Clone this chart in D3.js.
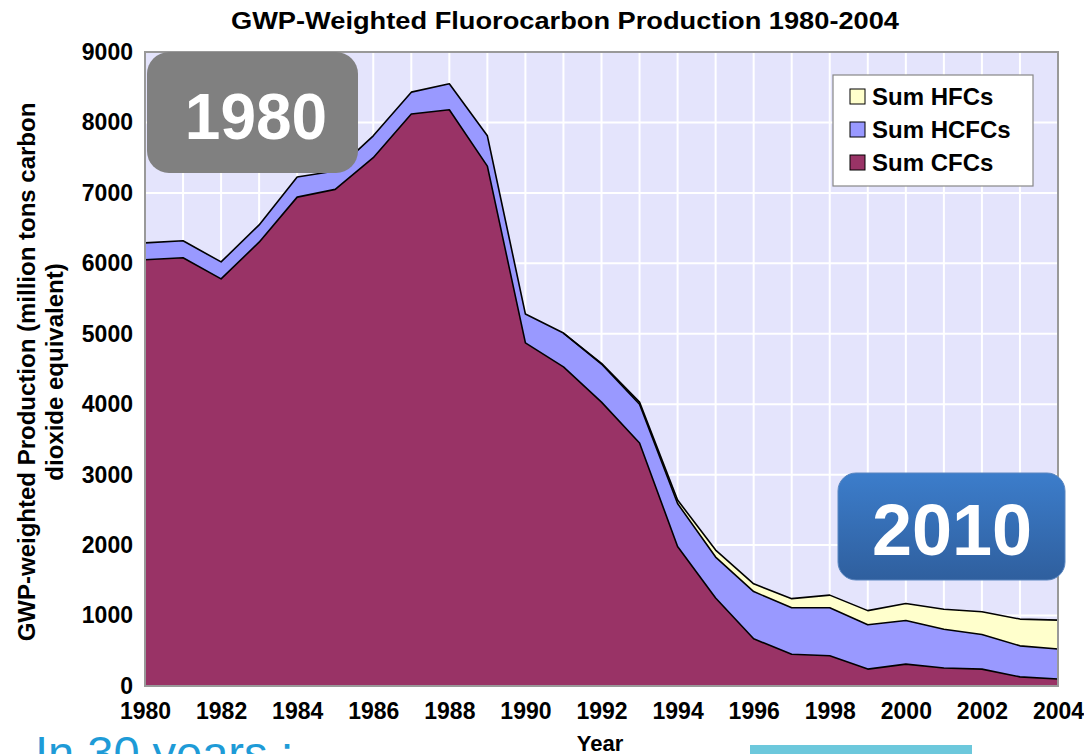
<!DOCTYPE html>
<html>
<head>
<meta charset="utf-8">
<script src="https://cdn.jsdelivr.net/npm/d3@7"></script>
<style>
  html, body { margin: 0; padding: 0; background: #ffffff; }
  svg { display: block; }
  text { font-family: "Liberation Sans", Arial, sans-serif; }
</style>
</head>
<body>
<svg id="chart" width="1084" height="754"></svg>
<script>
// ---- data ----
const years = [1980,1981,1982,1983,1984,1985,1986,1987,1988,1989,1990,1991,1992,1993,1994,1995,1996,1997,1998,1999,2000,2001,2002,2003,2004];
const cfcs  = [6050,6080,5780,6300,6940,7050,7500,8120,8180,7380,4870,4530,4030,3450,1980,1250,670,450,430,240,310,255,240,130,100];
const hcfcs = [240,240,240,245,285,260,310,310,370,430,410,480,540,550,610,580,670,660,680,630,620,550,490,440,425];
const hfcs  = [0,0,0,0,0,0,0,0,0,0,0,0,10,30,50,100,110,130,180,200,240,285,325,380,410];
const seriesNames = ["Sum CFCs","Sum HCFCs","Sum HFCs"];
const seriesColors = ["#993366","#9999FF","#FFFFCC"];
const yTicks = [0,1000,2000,3000,4000,5000,6000,7000,8000,9000];
const xTickYears = [1980,1982,1984,1986,1988,1990,1992,1994,1996,1998,2000,2002,2004];
const titleText = "GWP-Weighted Fluorocarbon Production 1980-2004";
const yTitleLines = ["GWP-weighted Production (million tons carbon","dioxide equivalent)"];
const xTitleText = "Year";

// ---- layout ----
const svg = d3.select("#chart");
const L = 145, R = 1058, T = 52, B = 686;
const x = d3.scaleLinear().domain([1980, 2004]).range([L, R]);
const y = d3.scaleLinear().domain([0, 9000]).range([B, T]);

// plot background
svg.append("rect").attr("x", L).attr("y", T).attr("width", R - L).attr("height", B - T)
  .attr("fill", "#E4E4FC");

// grid
const g = svg.append("g");
g.selectAll(".vg").data(years.slice(1, -1)).enter().append("line")
  .attr("x1", d => x(d)).attr("x2", d => x(d)).attr("y1", T).attr("y2", B)
  .attr("stroke", "#ffffff").attr("stroke-width", 2);
g.selectAll(".hg").data(yTicks.slice(1, -1)).enter().append("line")
  .attr("x1", L).attr("x2", R).attr("y1", d => y(d)).attr("y2", d => y(d))
  .attr("stroke", "#ffffff").attr("stroke-width", 2);

// stacked areas
const table = years.map((yr, i) => ({ year: yr, "Sum CFCs": cfcs[i], "Sum HCFCs": hcfcs[i], "Sum HFCs": hfcs[i] }));
const stack = d3.stack().keys(seriesNames);
const layers = stack(table);
const area = d3.area().x(d => x(d.data.year)).y0(d => y(d[0])).y1(d => y(d[1]));
const topLine = d3.line().x(d => x(d.data.year)).y(d => y(d[1]));

layers.forEach((layer, i) => {
  svg.append("path").datum(layer).attr("d", area).attr("fill", seriesColors[i]).attr("stroke", "none");
});
layers.forEach((layer, i) => {
  let pts = layer;
  if (i === 2) pts = layer.filter((d, j) => j >= 11);
  svg.append("path").datum(pts).attr("d", topLine).attr("fill", "none")
    .attr("stroke", "#000").attr("stroke-width", 1.6).attr("stroke-linejoin", "round");
});

// plot frame
svg.append("rect").attr("x", L).attr("y", T).attr("width", R - L).attr("height", B - T)
  .attr("fill", "none").attr("stroke", "#999999").attr("stroke-width", 2);

// y axis labels
const yAxis = d3.axisLeft(y).tickValues(yTicks).tickSize(0).tickPadding(12).tickFormat(d3.format("d"));
const ya = svg.append("g").attr("transform", `translate(${L},0)`).call(yAxis);
ya.select(".domain").remove();
ya.selectAll("text").attr("font-family", "Liberation Sans, Arial, sans-serif")
  .attr("font-size", 23).attr("font-weight", "bold").attr("fill", "#000");

// x axis labels
const xAxis = d3.axisBottom(x).tickValues(xTickYears).tickSize(0).tickPadding(17).tickFormat(d3.format("d"));
const xa = svg.append("g").attr("transform", `translate(0,${B})`).call(xAxis);
xa.select(".domain").remove();
xa.selectAll("text").attr("font-family", "Liberation Sans, Arial, sans-serif")
  .attr("font-size", 23).attr("font-weight", "bold").attr("fill", "#000");

// title
svg.append("text").attr("x", 565).attr("y", 29).attr("text-anchor", "middle")
  .attr("font-size", 23).attr("font-weight", "bold")
  .attr("textLength", 668).attr("lengthAdjust", "spacingAndGlyphs").text(titleText);

// y title
const yt = svg.append("text").attr("transform", "translate(0,372) rotate(-90)")
  .attr("text-anchor", "middle").attr("font-size", 24).attr("font-weight", "bold");
yt.append("tspan").attr("x", 0).attr("y", 35).text(yTitleLines[0]);
yt.append("tspan").attr("x", 0).attr("y", 63).text(yTitleLines[1]);

// x title
svg.append("text").attr("x", 600).attr("y", 751).attr("text-anchor", "middle")
  .attr("font-size", 22).attr("font-weight", "bold").text(xTitleText);

// legend
const lg = svg.append("g");
lg.append("rect").attr("x", 833).attr("y", 75).attr("width", 200).attr("height", 111)
  .attr("fill", "#fff").attr("stroke", "#888").attr("stroke-width", 1.2);
const legendOrder = [2, 1, 0];
legendOrder.forEach((si, k) => {
  const cy = 97 + k * 33;
  lg.append("rect").attr("x", 850).attr("y", cy - 8).attr("width", 15).attr("height", 15)
    .attr("fill", seriesColors[si]).attr("stroke", "#000").attr("stroke-width", 1);
  lg.append("text").attr("x", 872).attr("y", cy + 8).attr("font-size", 24).attr("font-weight", "bold")
    .text(seriesNames[si]);
});

// badges
const defs = svg.append("defs");
const grad = defs.append("linearGradient").attr("id", "blueGrad").attr("x1", 0).attr("y1", 0).attr("x2", 0).attr("y2", 1);
grad.append("stop").attr("offset", "0%").attr("stop-color", "#3C7DCB");
grad.append("stop").attr("offset", "100%").attr("stop-color", "#2F5F9E");

svg.append("rect").attr("x", 147).attr("y", 52).attr("width", 211).attr("height", 121)
  .attr("rx", 22).attr("fill", "#808080");
svg.append("text").attr("x", 256).attr("y", 139).attr("text-anchor", "middle")
  .attr("font-family", "'Open Sans', sans-serif").attr("font-weight", 700).attr("font-size", 64)
  .attr("fill", "#fff").text("1980");

svg.append("rect").attr("x", 838).attr("y", 473).attr("width", 227).attr("height", 107)
  .attr("rx", 18).attr("fill", "url(#blueGrad)").attr("stroke", "#5a86c0").attr("stroke-width", 1);
svg.append("text").attr("x", 952).attr("y", 555).attr("text-anchor", "middle")
  .attr("font-family", "'Open Sans', sans-serif").attr("font-weight", 700).attr("font-size", 72)
  .attr("fill", "#fff").text("2010");

// bottom extras
svg.append("text").attr("x", 35).attr("y", 769).attr("font-family", "'Open Sans', sans-serif")
  .attr("font-size", 47).attr("fill", "#1E9BD7").text("In 30 years :");
svg.append("rect").attr("x", 750).attr("y", 745).attr("width", 222).attr("height", 12)
  .attr("fill", "#6CC8DC");
</script>
</body>
</html>
